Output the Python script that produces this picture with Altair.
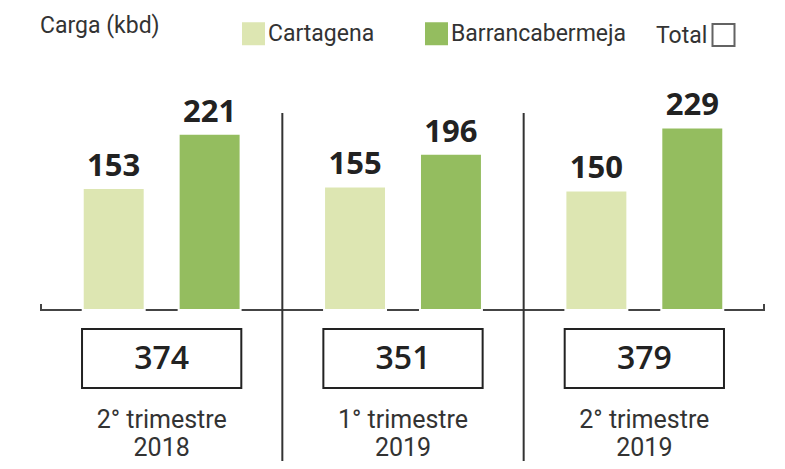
import altair as alt
import pandas as pd

# ---- data ----
quarters = ["2° trimestre\n2018", "1° trimestre\n2019", "2° trimestre\n2019"]
series = ["Cartagena", "Barrancabermeja"]
cartagena = [153, 155, 150]
barranca = [221, 196, 229]
totals = [374, 351, 379]
colors = ["#dde6b2", "#94bd5f"]

bars_df = pd.DataFrame(
    [{"quarter": q, "serie": s, "valor": v}
     for q, c, b in zip(quarters, cartagena, barranca)
     for s, v in ((series[0], c), (series[1], b))]
)
tot_df = pd.DataFrame({"quarter": quarters, "total": totals})
div_df = pd.DataFrame({"quarter": quarters[1:]})
one_df = pd.DataFrame({"k": [0]})

COND = "Roboto, Liberation Sans, sans-serif"
BOLD = "Open Sans, sans-serif"

# view origin is at page x = 41, page y = 8
xscale = alt.Scale(domain=quarters, paddingInner=0, paddingOuter=0)
yscale = alt.Scale(domain=[0, 300], range=[302, 62.9])
X = alt.X("quarter:N", scale=xscale, axis=None, sort=quarters)
XO = alt.XOffset("serie:N", scale=alt.Scale(domain=series, paddingInner=0.354, paddingOuter=0.435))
Y = alt.Y("valor:Q", scale=yscale, axis=None)

bars = alt.Chart(bars_df).mark_bar(stroke="white", strokeWidth=2).encode(
    x=X, xOffset=XO, y=Y,
    color=alt.Color(
        "serie:N",
        scale=alt.Scale(domain=series, range=colors),
        legend=alt.Legend(
            title=None, orient="none", direction="horizontal",
            legendX=201, legendY=14, padding=0,
            symbolType="square", symbolSize=529, symbolStrokeWidth=0,
            labelFont=COND, labelFontSize=23, labelColor="#333333",
            labelOffset=3, columnPadding=50, labelLimit=300,
        ),
    ),
)

bar_labels = alt.Chart(bars_df).mark_text(
    font=BOLD, fontWeight="bold", fontSize=31, color="#222222",
    baseline="alphabetic", dy=-12,
).encode(x=X, xOffset=XO, y=Y, text="valor:Q")

line_base = alt.Chart(one_df)
baseline = line_base.mark_rule(color="#444444", strokeWidth=2).encode(
    x=alt.value(-1), x2=alt.value(724), y=alt.value(302)
)
end_l = line_base.mark_rule(color="#444444", strokeWidth=2).encode(
    x=alt.value(0), y=alt.value(296), y2=alt.value(303)
)
end_r = line_base.mark_rule(color="#444444", strokeWidth=2).encode(
    x=alt.value(723), y=alt.value(296), y2=alt.value(303)
)

dividers = alt.Chart(div_df).mark_rule(color="#333333", strokeWidth=2).encode(
    x=alt.X("quarter:N", scale=xscale, axis=None, sort=quarters, bandPosition=0),
    y=alt.value(105), y2=alt.value(461),
)

boxes = alt.Chart(tot_df).mark_bar(
    fill="white", stroke="#222222", strokeWidth=2, width=alt.RelativeBandSize(0.66)
).encode(x=X, y=alt.value(321), y2=alt.value(380))

tot_text = alt.Chart(tot_df).mark_text(
    font=BOLD, fontWeight=600, fontSize=32, color="#222222", baseline="alphabetic"
).encode(x=X, y=alt.value(361), text="total:Q")

cat_text = alt.Chart(tot_df).mark_text(
    font=COND, fontSize=25, color="#333333", baseline="alphabetic",
    lineBreak="\n", lineHeight=28,
).encode(x=X, y=alt.value(420), text="quarter:N")

title_txt = line_base.mark_text(
    font=COND, fontSize=23, color="#333333", align="left", baseline="alphabetic"
).encode(x=alt.value(-1), y=alt.value(25), text=alt.value("Carga (kbd)"))

total_lbl = line_base.mark_text(
    font=COND, fontSize=23, color="#333333", align="left", baseline="alphabetic"
).encode(x=alt.value(615), y=alt.value(35), text=alt.value("Total"))

total_sq = line_base.mark_square(
    filled=False, stroke="#222222", strokeWidth=2, size=484
).encode(x=alt.value(682.5), y=alt.value(27))

chart = alt.layer(
    baseline, end_l, end_r, bars, bar_labels, dividers, boxes, tot_text, cat_text,
    title_txt, total_lbl, total_sq,
).properties(
    width=724, height=453, background="white",
    autosize=alt.AutoSizeParams(type="none"),
    padding={"left": 33, "top": 0, "right": 0, "bottom": 0},
).configure_view(stroke=None)

chart.save("out.html", embed_options={"renderer": "svg", "actions": False})
